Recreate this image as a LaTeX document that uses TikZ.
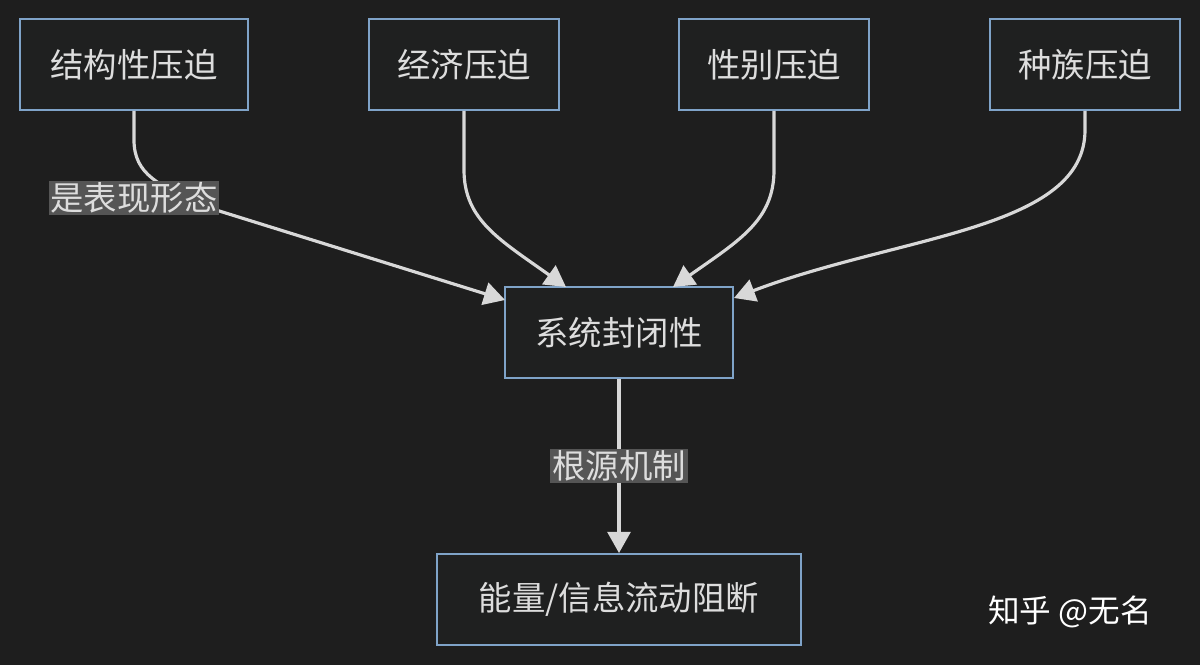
\documentclass[tikz,border=0pt]{standalone}
\usepackage{fontspec}
\setmainfont{Noto Sans CJK SC}
\usetikzlibrary{arrows.meta}
\definecolor{bg}{HTML}{1E1E1E}
\definecolor{boxfill}{HTML}{1F2020}
\definecolor{boxline}{HTML}{7FA3C8}
\definecolor{ink}{HTML}{DDDDDD}
\definecolor{wire}{HTML}{D8D8D8}
\definecolor{tag}{HTML}{555555}
\begin{document}
\begin{tikzpicture}[x=0.02cm,y=-0.02cm,
  box/.style={draw=boxline,fill=boxfill,line width=1.1pt,text=ink,
    minimum height=91*0.02cm,inner sep=0pt,font=\fontsize{19}{22}\selectfont},
  link/.style={draw=wire,line width=1.8pt,-{Triangle[length=12pt,width=13pt]}},
  tagnode/.style={fill=tag,text=ink,inner sep=1pt,font=\fontsize{19}{22}\selectfont}]

\fill[bg] (0,0) rectangle (1200,665);
\useasboundingbox (0,0) rectangle (1200,665);

% top row
\node[box,minimum width=228*0.02cm] (jg) at (134,64.5) {结构性压迫};
\node[box,minimum width=190*0.02cm] (jj) at (464,64.5) {经济压迫};
\node[box,minimum width=190*0.02cm] (xb) at (774,64.5) {性别压迫};
\node[box,minimum width=190*0.02cm] (zz) at (1085,64.5) {种族压迫};

% middle and bottom
\node[box,minimum width=228*0.02cm] (xt) at (619,332.5) {系统封闭性};
\node[box,minimum width=364*0.02cm] (nl) at (619,599.5) {能量/信息流动阻断};

\coordinate (t1) at (505,300);
\coordinate (t2) at (566,287);
\coordinate (t3) at (673,287);
\coordinate (t4) at (734,298);

\draw[link] (jg.south) -- (134,140) .. controls (134,175) and (160,185) .. (200,205)
  -- (t1);
\node[tagnode] (lb1) at (134,198) {是表现形态};
\draw[link] (jj.south) -- (464,170) .. controls (464,220) and (500,240) .. (t2);
\draw[link] (xb.south) -- (774,170) .. controls (774,220) and (740,240) .. (t3);
\draw[link] (zz.south) -- (1085,130) .. controls (1085,230) and (900,235) .. (t4);

\draw[link] (xt.south) -- (nl.north);
\node[tagnode] (lb2) at (619,466) {根源机制};

\node[text=white,font=\fontsize{18}{22}\selectfont] (wm) at (1070,612) {知乎 @无名};
\end{tikzpicture}
\end{document}
